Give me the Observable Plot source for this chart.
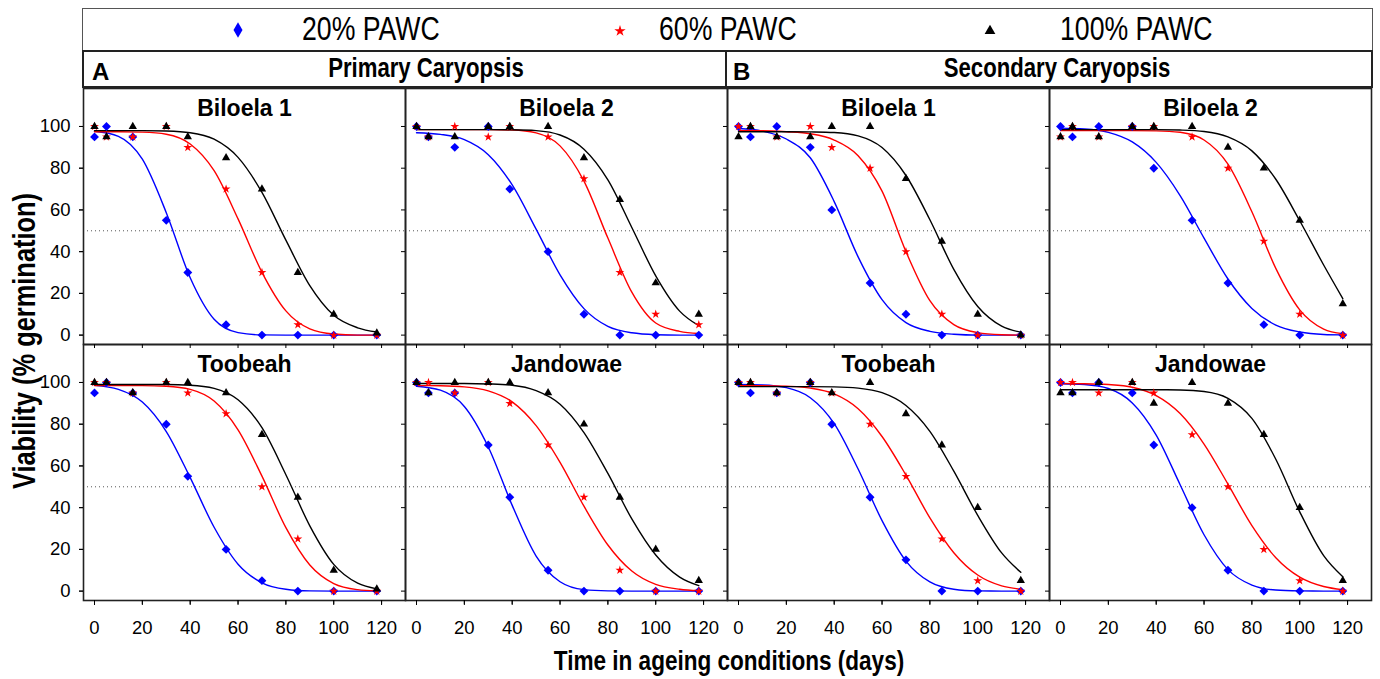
<!DOCTYPE html>
<html><head><meta charset="utf-8">
<script src="https://cdn.jsdelivr.net/npm/d3@7"></script>
<script src="https://cdn.jsdelivr.net/npm/@observablehq/plot@0.6"></script>
<style>
html,body{margin:0;padding:0;background:#fff;}
#wrap{position:relative;width:1380px;height:679px;overflow:hidden;font-family:"Liberation Sans",Arial,sans-serif;color:#000;}
#chart{position:absolute;left:0;top:87px;}
.box{position:absolute;box-sizing:border-box;background:#fff;}
.lbl{position:absolute;white-space:nowrap;line-height:1;}
</style></head><body><div id="wrap"><div id="chart"></div></div>
<script>
// ---------- data ----------
const pawc = ["20% PAWC", "60% PAWC", "100% PAWC"];
const seriesColors = ["#0000ff", "#ff0000", "#000000"];
const groupTitles = ["Primary Caryopsis", "Secondary Caryopsis"];
const groupLetters = ["A", "B"];
const panelTitles = ["Biloela 1", "Biloela 2", "Biloela 1", "Biloela 2", "Toobeah", "Jandowae", "Toobeah", "Jandowae"];
const panelCol = [0, 1, 2, 3, 0, 1, 2, 3];
const panelRow = [0, 0, 0, 0, 1, 1, 1, 1];
const xTicks = [0, 20, 40, 60, 80, 100, 120];
const yTicks = [0, 20, 40, 60, 80, 100];
const refLine = [50];
const obsDays = [0, 5, 16, 30, 39, 55, 70, 85, 100, 118];
const fitDays = [0, 10, 20, 30, 40, 50, 60, 70, 80, 90, 100, 110, 118];

// observed viability (% germination), one row per panel (order of panelTitles)
const viab20 = [
  [95, 100, 95, 55, 30, 5, 0, 0, 0, 0],
  [100, 95, 90, 100, 70, 40, 10, 0, 0, 0],
  [100, 95, 100, 90, 60, 25, 10, 0, 0, 0],
  [100, 95, 100, 100, 80, 55, 25, 5, 0, 0],
  [95, 100, 95, 80, 55, 20, 5, 0, 0, 0],
  [100, 95, 95, 70, 45, 10, 0, 0, 0, 0],
  [100, 95, 95, 100, 80, 45, 15, 0, 0, 0],
  [100, 95, 100, 95, 70, 40, 10, 0, 0, 0]
];
const viab60 = [
  [100, 95, 95, 100, 90, 70, 30, 5, 0, 0],
  [100, 95, 100, 95, 100, 95, 75, 30, 10, 5],
  [100, 100, 95, 100, 90, 80, 40, 10, 0, 0],
  [95, 100, 95, 100, 100, 95, 80, 45, 10, 0],
  [100, 100, 95, 100, 95, 85, 50, 25, 0, 0],
  [100, 100, 95, 100, 90, 70, 45, 10, 0, 0],
  [100, 100, 95, 100, 95, 80, 55, 25, 5, 0],
  [100, 100, 95, 100, 95, 75, 50, 20, 5, 0]
];
const viab100 = [
  [100, 95, 100, 100, 95, 85, 70, 30, 10, 1],
  [100, 95, 95, 100, 100, 100, 85, 65, 25, 10],
  [95, 100, 95, 95, 100, 100, 75, 45, 10, 0],
  [95, 100, 95, 100, 100, 100, 90, 80, 55, 15],
  [100, 100, 95, 100, 100, 95, 75, 45, 10, 1],
  [100, 95, 100, 100, 100, 95, 80, 45, 20, 5],
  [100, 100, 95, 100, 95, 100, 85, 70, 40, 5],
  [95, 95, 100, 100, 90, 100, 90, 75, 40, 5]
];
// fitted curves, values read at fitDays
const fit20 = [
  [97.7, 95.3, 84.3, 58.7, 27.5, 7.6, 1.2, 0.1, 0, 0, 0, 0, 0],
  [97, 96.2, 93.7, 86.5, 72, 50.8, 28.9, 12.7, 4.2, 1.1, 0.2, 0, 0],
  [99, 97.8, 94, 85, 64, 37.5, 17, 6, 1.8, 0.4, 0, 0, 0],
  [99.2, 98.8, 97.2, 92.6, 82.8, 66.9, 46.5, 26.9, 12.8, 4.8, 1.5, 0.3, 0.1],
  [98.6, 96.7, 90.6, 76.5, 54.4, 30.6, 12.9, 4, 0.9, 0.1, 0, 0, 0],
  [98.2, 96.3, 88.5, 69.1, 41.1, 16.8, 4.5, 0.7, 0.1, 0, 0, 0, 0],
  [99, 98.8, 97.5, 92.7, 80.3, 58.5, 33.8, 14.4, 4.4, 0.9, 0.1, 0, 0],
  [99.4, 99, 97.1, 90.2, 74.8, 51, 27, 10.3, 2.9, 0.5, 0.1, 0, 0]
];
const fit60 = [
  [97.5, 97.5, 97.3, 96.3, 91.6, 78.8, 55.7, 30.1, 11.6, 3, 0.5, 0, 0],
  [98.5, 98.5, 98.5, 98.5, 98.3, 96.9, 90.7, 73.8, 46.5, 20.6, 5.8, 1.8, 0.8],
  [98, 98, 97.5, 96.5, 93.5, 86, 69, 40, 16.5, 5, 1.2, 0.2, 0],
  [98, 98, 98, 98, 97.9, 97.2, 93.5, 81.9, 59.1, 32, 12.1, 2.9, 0.7],
  [98.5, 98.5, 98.5, 98.2, 96.7, 91.1, 77.3, 55.1, 30.4, 12.5, 3.6, 0.7, 0.1],
  [98.5, 98.4, 97.9, 96, 90.7, 79.3, 61.7, 40.7, 22.1, 9.6, 3.2, 0.9, 0.2],
  [98.5, 98.5, 98.2, 97.3, 94.5, 87.4, 74.1, 55.6, 35.1, 18.4, 7.7, 2.5, 0.9],
  [99.5, 99.4, 99, 97.7, 93.7, 85.1, 70.5, 51.3, 31.4, 16, 6.7, 2.2, 0.7]
];
const fit100 = [
  [98, 98, 98, 97.8, 97, 93.9, 85.2, 68.4, 45.5, 23.7, 9.5, 3.5, 1.5],
  [98.5, 98.5, 98.5, 98.5, 98.4, 98, 95.9, 89.1, 74.4, 51.6, 28.4, 11.5, 4.5],
  [97.5, 97.5, 97.5, 97.4, 97.1, 95.5, 89.9, 76.5, 55.3, 31.5, 13.7, 4.3, 1.4],
  [98.5, 98.5, 98.5, 98.5, 98.5, 98.3, 97.6, 95, 88.3, 74.7, 54.8, 33.6, 17.5],
  [99, 99, 99, 99, 98.7, 97.2, 91.7, 78.3, 55.8, 31.3, 12.8, 3.8, 1.1],
  [99.5, 99.5, 99.5, 99.3, 98.7, 96.1, 89.6, 76, 56.4, 34.6, 17.3, 6.7, 2.6],
  [98, 98, 98, 98, 97.9, 97.3, 95.1, 89, 76.6, 57.5, 36.3, 18.3, 9],
  [96.5, 96.5, 96.5, 96.5, 96.5, 96.4, 95.7, 92.4, 82.8, 63.2, 38, 17, 6.9]
];

// ---------- tables ----------
const obs = [], fits = [];
[viab20, viab60, viab100].forEach((S, si) => S.forEach((vals, pi) => vals.forEach((v, di) =>
  obs.push({fx: panelCol[pi], fy: panelRow[pi], day: obsDays[di], v, s: pawc[si]}))));
[fit20, fit60, fit100].forEach((S, si) => S.forEach((vals, pi) => vals.forEach((v, di) =>
  fits.push({fx: panelCol[pi], fy: panelRow[pi], day: fitDays[di], v, s: pawc[si], k: pi + "-" + si}))));
const titles = panelTitles.map((t, i) => ({fx: panelCol[i], fy: panelRow[i], t}));

// ---------- plot ----------
const FONT = "'Liberation Sans', Arial, sans-serif";
const chart = Plot.plot({
  width: 1380, height: 592,
  marginTop: 0, marginBottom: 79, marginLeft: 82, marginRight: 8,
  style: {fontFamily: FONT, fontSize: "18.5px", background: "transparent", color: "#000", overflow: "visible"},
  fx: {domain: [0, 1, 2, 3], padding: 0, axis: null},
  fy: {domain: [0, 1], padding: 0, axis: null},
  x: {domain: [-4.6, 130], label: null},
  y: {domain: [-4.5, 118.2], label: null},
  color: {domain: pawc, range: seriesColors},
  marks: [
    Plot.ruleY(refLine, {stroke: "#555", strokeWidth: 1, strokeDasharray: "1,3"}),
    Plot.line(fits, {x: "day", y: "v", z: "k", stroke: "s", fx: "fx", fy: "fy", curve: "monotone-x", strokeWidth: 1.4}),
    Plot.dot(obs.filter(d => d.s === pawc[0]), {x: "day", y: "v", fx: "fx", fy: "fy", symbol: "diamond2", r: 4, fill: seriesColors[0]}),
    Plot.dot(obs.filter(d => d.s === pawc[1]), {x: "day", y: "v", fx: "fx", fy: "fy", symbol: "star", r: 2.8, fill: seriesColors[1]}),
    Plot.dot(obs.filter(d => d.s === pawc[2]), {x: "day", y: "v", fx: "fx", fy: "fy", symbol: "triangle", r: 3.1, fill: seriesColors[2]}),
    Plot.text(titles, {fx: "fx", fy: "fy", text: "t", frameAnchor: "top", lineAnchor: "top", dy: 11, fontSize: 23, fontWeight: "bold", fill: "#000"}),
    Plot.frame({stroke: "#222", strokeWidth: 1.6}),
    Plot.axisX(xTicks, {tickSize: 4, fill: "none", facetAnchor: null, label: null}),
    Plot.axisY(yTicks, {tickSize: 4, fill: "none", facetAnchor: null, label: null}),
    Plot.axisX(xTicks, {tickSize: 5, tickPadding: 15, fontSize: 18.5, label: null}),
    Plot.axisY(yTicks, {tickSize: 4, tickPadding: 9, fontSize: 18.5, label: null})
  ]
});
document.getElementById("chart").appendChild(chart);

// ---------- legend, headers, axis titles ----------
const wrap = document.getElementById("wrap");
const hasNarrow = (() => {
  const c = document.createElement("canvas").getContext("2d");
  const s = "Primary Caryopsis 100% PAWC";
  c.font = "30px monospace"; const a = c.measureText(s).width;
  c.font = "30px 'Liberation Sans Narrow', monospace"; const b = c.measureText(s).width;
  return Math.abs(a - b) > 1;
})();
function box(x, y, w, h, border) {
  const d = document.createElement("div");
  d.className = "box";
  d.style.cssText += `left:${x}px;top:${y}px;width:${w}px;height:${h}px;border:${border};`;
  wrap.appendChild(d);
}
function label(txt, {x, y, size, weight = "normal", anchor = "start", narrow = false, rotate = 0}) {
  const d = document.createElement("div");
  d.className = "lbl";
  d.textContent = txt;
  const fam = narrow && hasNarrow ? "'Liberation Sans Narrow', " + FONT : FONT;
  const sx = narrow && !hasNarrow ? 0.82 : 1;
  d.style.left = x + "px"; d.style.top = y + "px";
  d.style.font = `${weight} ${size}px ${fam}`;
  d.style.lineHeight = "1";
  d.style.transformOrigin = "0 0";
  const tx = anchor === "middle" ? "-50%" : anchor === "end" ? "-100%" : "0px";
  d.style.transform = `rotate(${rotate}deg) scaleX(${sx}) translate(${tx}, ${-0.8465 * size}px)`;
  wrap.appendChild(d);
}
function symbolIcon(type, size, color, cx, cy) {
  const s = d3.create("svg").attr("width", 24).attr("height", 24)
    .style("position", "absolute").style("left", (cx - 12) + "px").style("top", (cy - 12) + "px");
  s.append("path").attr("transform", "translate(12,12)")
    .attr("d", d3.symbol(type, size)()).attr("fill", color);
  wrap.appendChild(s.node());
}

// legend box
box(82, 8, 1291, 43, "1.5px solid #555");
symbolIcon(d3.symbolDiamond, 70, seriesColors[0], 238, 30);
label(pawc[0], {x: 302, y: 41, size: 32.5, narrow: true});
symbolIcon(d3.symbolStar, 40, seriesColors[1], 620, 31);
label(pawc[1], {x: 659, y: 41, size: 32.5, narrow: true});
symbolIcon(d3.symbolTriangle, 50, seriesColors[2], 990, 31);
label(pawc[2], {x: 1060, y: 41, size: 32.5, narrow: true});

// group headers
box(82, 50, 645, 38, "2px solid #222");
box(725, 50, 648, 38, "2px solid #222");
label(groupLetters[0], {x: 92, y: 80, size: 24, weight: "bold"});
label(groupTitles[0], {x: 426, y: 78, size: 27, weight: "bold", anchor: "middle", narrow: true});
label(groupLetters[1], {x: 733, y: 80, size: 24, weight: "bold"});
label(groupTitles[1], {x: 1057, y: 78, size: 27, weight: "bold", anchor: "middle", narrow: true});

// axis titles
label("Time in ageing conditions (days)", {x: 729, y: 670, size: 27.5, weight: "bold", anchor: "middle", narrow: true});
label("Viability (% germination)", {x: 35, y: 341, size: 31, weight: "bold", anchor: "middle", narrow: true, rotate: -90});
</script></body></html>
